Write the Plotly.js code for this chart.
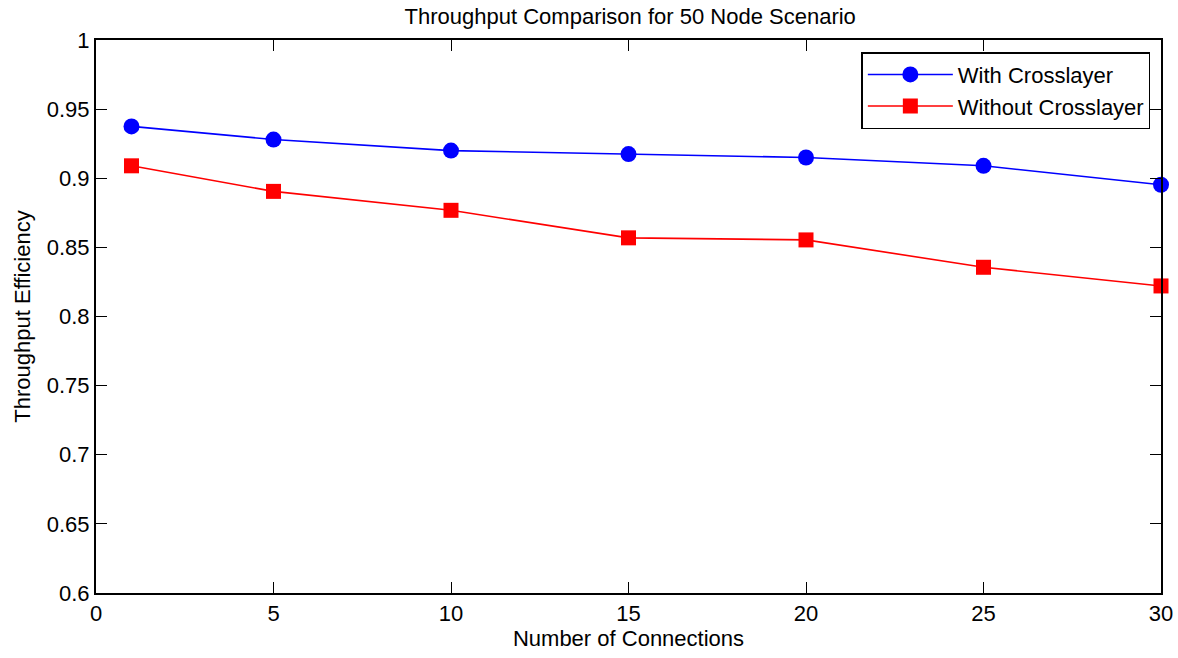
<!DOCTYPE html>
<html>
<head>
<meta charset="utf-8">
<script src="https://cdn.plot.ly/plotly-3.0.1.min.js"></script>
<style>html,body{margin:0;padding:0;background:#fff;}#chart{width:1178px;height:658px;}</style>
</head>
<body>
<div id="chart"></div>
<script>
const connections = [1, 5, 10, 15, 20, 25, 30];
const withCrosslayer = [0.9375, 0.928, 0.920, 0.9175, 0.915, 0.909, 0.8953];
const withoutCrosslayer = [0.909, 0.8905, 0.8768, 0.8569, 0.8554, 0.8356, 0.8221];
const xTicks = [0, 5, 10, 15, 20, 25, 30];
const yTicks = [0.6, 0.65, 0.7, 0.75, 0.8, 0.85, 0.9, 0.95, 1];
const yTickLabels = ['0.6', '0.65', '0.7', '0.75', '0.8', '0.85', '0.9', '0.95', '1'];

const font = 'Liberation Sans, Arial, sans-serif';
const traces = [
  {x: connections, y: withCrosslayer, name: 'With Crosslayer', mode: 'lines+markers', cliponaxis: false,
   line: {color: '#0000ff', width: 1.6}, marker: {symbol: 'circle', size: 16, color: '#0000ff'}},
  {x: connections, y: withoutCrosslayer, name: 'Without Crosslayer', mode: 'lines+markers', cliponaxis: false,
   line: {color: '#ff0000', width: 1.6}, marker: {symbol: 'square', size: 15, color: '#ff0000'}}
];
const axisCommon = {showgrid: false, zeroline: false, showline: true, linecolor: '#000', linewidth: 2,
  mirror: 'allticks', ticks: 'inside', ticklen: 11, tickcolor: '#000', tickwidth: 1,
  tickfont: {family: font, size: 22, color: '#000'}};
const layout = {
  width: 1178, height: 658,
  margin: {l: 96, r: 17, t: 40, b: 65},
  paper_bgcolor: '#fff', plot_bgcolor: '#fff',
  font: {family: font, color: '#000'},
  title: {text: 'Throughput Comparison for 50 Node Scenario', font: {family: font, size: 22, color: '#000'},
          x: 0.535, xanchor: 'center', y: 0.975, yanchor: 'middle'},
  xaxis: Object.assign({}, axisCommon, {range: [0, 30], tickvals: xTicks, ticktext: xTicks.map(String),
    title: {text: 'Number of Connections', font: {family: font, size: 22, color: '#000'}, standoff: 4}}),
  yaxis: Object.assign({}, axisCommon, {range: [0.6, 1], tickvals: yTicks, ticktext: yTickLabels,
    title: {text: 'Throughput Efficiency', font: {family: font, size: 22, color: '#000'}, standoff: 10}}),
  legend: {x: 0.99, xanchor: 'right', y: 0.978, yanchor: 'top', bordercolor: '#000', borderwidth: 1.5,
    bgcolor: '#fff', font: {family: font, size: 22, color: '#000'}, tracegroupgap: 0, itemwidth: 85},
  showlegend: true
};
Plotly.newPlot('chart', traces, layout, {displayModeBar: false, staticPlot: true});
</script>
</body>
</html>
